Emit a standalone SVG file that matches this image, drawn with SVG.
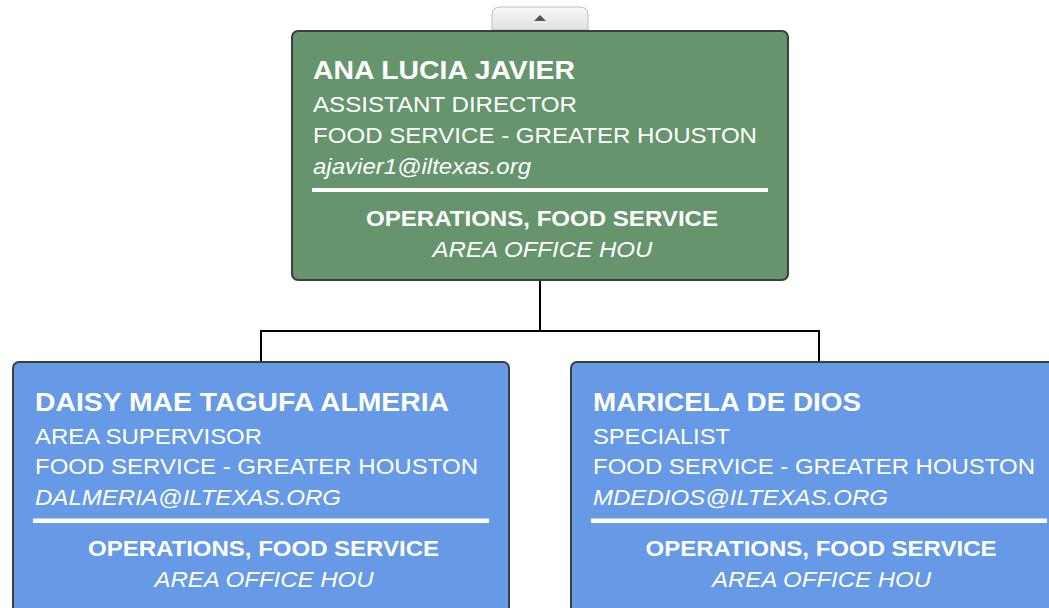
<svg xmlns="http://www.w3.org/2000/svg" width="1049" height="608" viewBox="0 0 1049 608">
<defs>
<linearGradient id="tabg" x1="0" y1="0" x2="0" y2="1">
<stop offset="0" stop-color="#f7f7f7"/>
<stop offset="1" stop-color="#e2e2e2"/>
</linearGradient>
<style>
.box{stroke:#3d3d3d;stroke-width:2}
.green{fill:#65946d}
.blue{fill:#6699e6}
.t{font-family:"Liberation Sans",Arial,sans-serif;fill:#ffffff;font-size:22px}
.name{font-weight:bold;font-size:26px}
.b{font-weight:bold}
.i{font-style:italic}
.c{text-anchor:middle}
.sep{fill:#ffffff}
.conn{stroke:#000;stroke-width:2;fill:none}
</style>
</defs>
<rect width="1049" height="608" fill="#ffffff"/>
<g id="connectors">
<path class="conn" d="M540,280 V331 M261,331 H819 M261,330 V362 M819,330 V362"/>
</g>
<g id="expand-tab">
<path d="M492,30 V15 Q492,7 500,7 H580 Q588,7 588,15 V30 Z" fill="url(#tabg)" stroke="#bdbdbd" stroke-width="1"/>
<polygon points="534,21 546,21 540,15" fill="#555"/>
</g>
<g id="node-ana">
<rect class="box green" x="292" y="31" width="496" height="249" rx="6"/>
<text class="t name" x="313" y="79" textLength="262" lengthAdjust="spacingAndGlyphs">ANA LUCIA JAVIER</text>
<text class="t" x="313" y="112" textLength="264" lengthAdjust="spacingAndGlyphs">ASSISTANT DIRECTOR</text>
<text class="t" x="313" y="143" textLength="444" lengthAdjust="spacingAndGlyphs">FOOD SERVICE - GREATER HOUSTON</text>
<text class="t i" x="313" y="174" textLength="218" lengthAdjust="spacingAndGlyphs">ajavier1@iltexas.org</text>
<rect class="sep" x="312" y="188" width="456" height="4"/>
<text class="t b c" x="542" y="226" textLength="352" lengthAdjust="spacingAndGlyphs">OPERATIONS, FOOD SERVICE</text>
<text class="t i c" x="542.5" y="257" textLength="220" lengthAdjust="spacingAndGlyphs">AREA OFFICE HOU</text>
</g>
<g id="node-daisy">
<rect class="box blue" x="13" y="362" width="496" height="256" rx="6"/>
<text class="t name" x="35" y="411" textLength="414" lengthAdjust="spacingAndGlyphs">DAISY MAE TAGUFA ALMERIA</text>
<text class="t" x="35" y="444" textLength="227" lengthAdjust="spacingAndGlyphs">AREA SUPERVISOR</text>
<text class="t" x="35" y="474" textLength="443" lengthAdjust="spacingAndGlyphs">FOOD SERVICE - GREATER HOUSTON</text>
<text class="t i" x="35" y="505" textLength="306" lengthAdjust="spacingAndGlyphs">DALMERIA@ILTEXAS.ORG</text>
<rect class="sep" x="33" y="518.5" width="456" height="4.5"/>
<text class="t b c" x="263.5" y="556" textLength="351" lengthAdjust="spacingAndGlyphs">OPERATIONS, FOOD SERVICE</text>
<text class="t i c" x="264" y="587" textLength="219" lengthAdjust="spacingAndGlyphs">AREA OFFICE HOU</text>
</g>
<g id="node-maricela">
<rect class="box blue" x="571" y="362" width="496" height="256" rx="6"/>
<text class="t name" x="593" y="411" textLength="268" lengthAdjust="spacingAndGlyphs">MARICELA DE DIOS</text>
<text class="t" x="593" y="444" textLength="137" lengthAdjust="spacingAndGlyphs">SPECIALIST</text>
<text class="t" x="593" y="474" textLength="442" lengthAdjust="spacingAndGlyphs">FOOD SERVICE - GREATER HOUSTON</text>
<text class="t i" x="593" y="505" textLength="295" lengthAdjust="spacingAndGlyphs">MDEDIOS@ILTEXAS.ORG</text>
<rect class="sep" x="591" y="518.5" width="456" height="4.5"/>
<text class="t b c" x="821" y="556" textLength="351" lengthAdjust="spacingAndGlyphs">OPERATIONS, FOOD SERVICE</text>
<text class="t i c" x="821.5" y="587" textLength="219" lengthAdjust="spacingAndGlyphs">AREA OFFICE HOU</text>
</g>
</svg>
